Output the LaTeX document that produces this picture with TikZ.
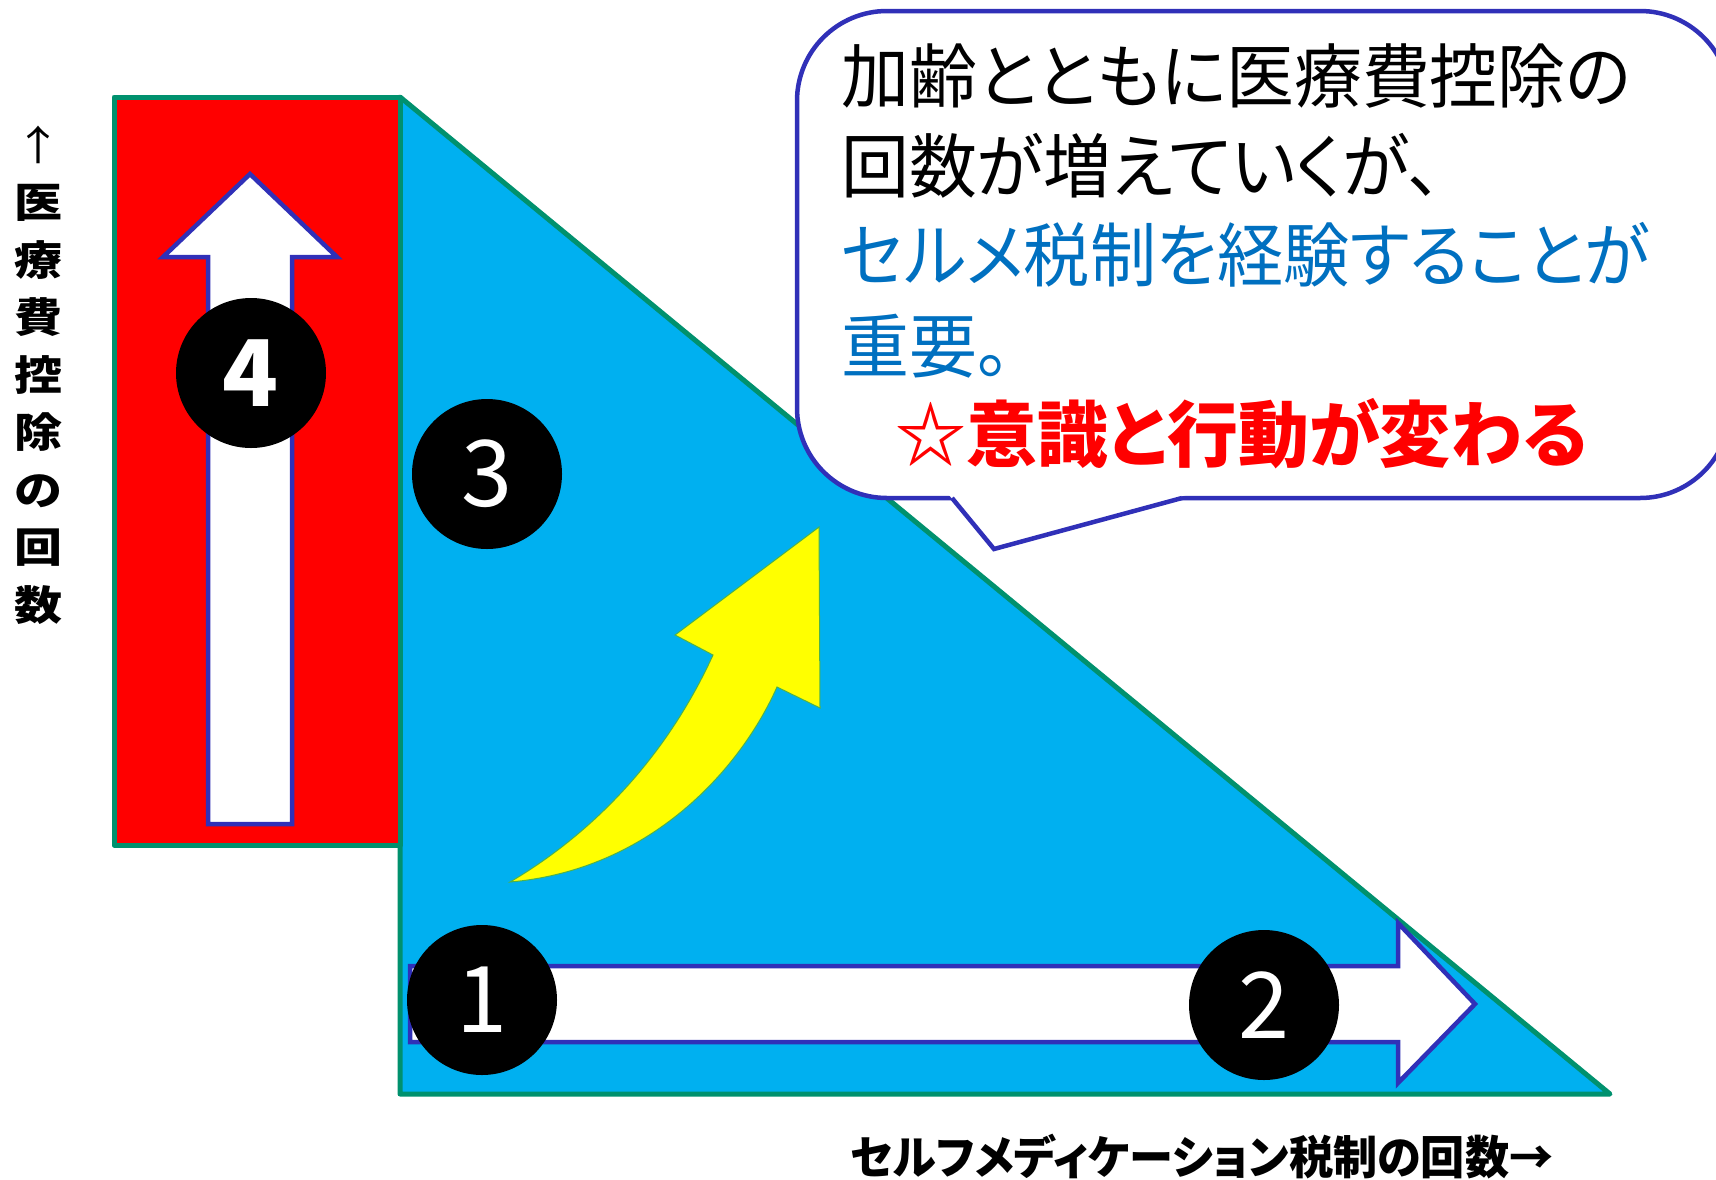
\documentclass[tikz,border=0pt]{standalone}
\usepackage{fontspec}
\setmainfont{Noto Sans CJK JP}
\newfontfamily\jp{Noto Sans CJK JP}[RawFeature=+palt]
\definecolor{trigreen}{RGB}{0,145,110}
\definecolor{skyb}{RGB}{0,176,240}
\definecolor{arrowblue}{RGB}{48,48,184}
\definecolor{textblue}{RGB}{0,112,192}
\definecolor{redfill}{RGB}{255,0,0}
\definecolor{yel}{RGB}{255,255,0}
\tikzset{
  greenline/.style={draw=trigreen, line width=5pt, line join=round},
  whitearrow/.style={fill=white, draw=arrowblue, line width=4.5pt, line join=miter},
  numc/.style={circle, fill=black, minimum size=150pt, inner sep=0pt, text=white},
  bubbleline/.style={draw=arrowblue, line width=4.5pt},
  btext/.style={anchor=west, inner sep=0pt, font=\jp\fontsize{70}{84}\selectfont},
}
\begin{document}
\begin{tikzpicture}[x=1pt,y=-1pt]
\useasboundingbox (0,0) rectangle (1716,1179);
\clip (0,0) rectangle (1716,1179);
\fill[white] (0,0) rectangle (1716,1179);

% triangle
\filldraw[fill=skyb, greenline] (400,97) -- (400,1094) -- (1610,1094) -- cycle;
% red rectangle
\filldraw[fill=redfill, greenline] (114,97) rectangle (400,845);

% up arrow
\filldraw[whitearrow] (208,824) -- (208,257) -- (163,257) -- (250,174) -- (337,257) -- (292,257) -- (292,824) -- cycle;
% right arrow
\filldraw[whitearrow] (410,966) -- (1398,966) -- (1398,923) -- (1475,1004) -- (1398,1083) -- (1398,1042) -- (410,1042) -- cycle;

% yellow curved arrow
\filldraw[fill=yel, draw=trigreen!70!yel, line width=1pt, line join=miter]
  (510,882) .. controls (590,835) and (665,760) .. (713,655)
  -- (675,635) -- (819,527) -- (820,708) -- (777,687)
  .. controls (740,770) and (650,870) .. (510,882) -- cycle;

% numbered circles
\node[numc, font=\bfseries\fontsize{92}{92}\selectfont] (n4) at (251,373) {4};
\node[numc, font=\fontsize{92}{92}\selectfont] (n3) at (487,474) {3};
\node[numc, font=\fontsize{92}{92}\selectfont] (n1) at (482,1000) {1};
\node[numc, font=\fontsize{92}{92}\selectfont] (n2) at (1264,1005) {2};

% speech bubble
\filldraw[fill=white, bubbleline, rounded corners=90pt] (797,11) rectangle (1730,498);
\fill[white] (949,495) -- (994,549) -- (1186,495) -- cycle;
\draw[bubbleline, line join=miter] (952,498) -- (994,549) -- (1182,498);

% bubble text
\node[btext] (l1) at (841,76) {\scalebox{0.97}[1]{加齢とともに医療費控除の}};
\node[btext] (l2) at (841,166) {\scalebox{0.97}[1]{回数が増えていくが、}};
\node[btext, text=textblue] (l3) at (841,255) {\scalebox{0.945}[1]{セルメ税制を経験することが}};
\node[btext, text=textblue] (l4) at (841,346) {\scalebox{0.97}[1]{重要。}};
\node[anchor=west, inner sep=0pt, text=redfill, font=\jp\bfseries\fontsize{72}{84}\selectfont] (l5) at (895,434) {\scalebox{0.985}[1]{☆意識と行動が変わる}};

% axis labels
\node[align=center, inner sep=0pt, yscale=0.85, transform shape,
      font=\jp\bfseries\fontsize{48}{67.6}\selectfont] (ylab) at (38.5,375)
  {{\mdseries ↑}\\医\\療\\費\\控\\除\\の\\回\\数};
\node[inner sep=0pt, font=\jp\bfseries\fontsize{46}{50}\selectfont] (xlab) at (1202,1157)
  {\scalebox{0.96}[1]{セルフメディケーション税制の回数→}};
\end{tikzpicture}
\end{document}
